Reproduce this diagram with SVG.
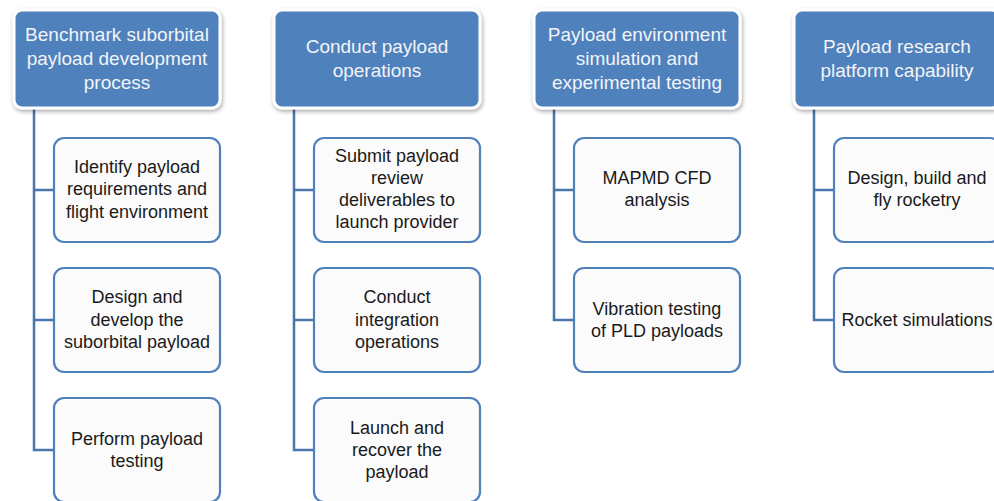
<svg xmlns="http://www.w3.org/2000/svg" width="994" height="501" viewBox="0 0 994 501">
<defs>
<filter id="sh" x="-10%" y="-10%" width="130%" height="130%">
<feGaussianBlur in="SourceAlpha" stdDeviation="2"/>
<feOffset dx="1" dy="2" result="b"/>
<feComponentTransfer><feFuncA type="linear" slope="0.35"/></feComponentTransfer>
<feMerge><feMergeNode/><feMergeNode in="SourceGraphic"/></feMerge>
</filter>
</defs>
<style>
.hdr{fill:#4f81bd;stroke:#ffffff;stroke-width:3;filter:url(#sh)}
.box{fill:#fbfbfb;stroke:#4f81bd;stroke-width:2.2}
.ht{font-family:"Liberation Sans",Arial,sans-serif;font-size:19px;fill:#f2f4f8;text-anchor:middle}
.ct{font-family:"Liberation Sans",Arial,sans-serif;font-size:18px;fill:#1a1a1a;text-anchor:middle}
.con{fill:none;stroke:#4a76ad;stroke-width:2.5}
</style>
<rect width="994" height="501" fill="#ffffff"/>
<g id="connectors">
<path class="con" d="M34 108 V450 H54 M34 190 H54 M34 320 H54"/>
<path class="con" d="M294 108 V450 H314 M294 190 H314 M294 320 H314"/>
<path class="con" d="M554 108 V320 H574 M554 190 H574"/>
<path class="con" d="M814 108 V320 H834 M814 190 H834"/>
</g>
<g id="h1"><rect class="hdr" x="14" y="10" width="206" height="98" rx="8"/>
<text class="ht" x="117" y="41">Benchmark suborbital</text><text class="ht" x="117" y="65">payload development</text><text class="ht" x="117" y="89">process</text></g>
<g id="h2"><rect class="hdr" x="274" y="10" width="206" height="98" rx="8"/>
<text class="ht" x="377" y="53">Conduct payload</text><text class="ht" x="377" y="77">operations</text></g>
<g id="h3"><rect class="hdr" x="534" y="10" width="206" height="98" rx="8"/>
<text class="ht" x="637" y="41">Payload environment</text><text class="ht" x="637" y="65">simulation and</text><text class="ht" x="637" y="89">experimental testing</text></g>
<g id="h4"><rect class="hdr" x="794" y="10" width="206" height="98" rx="8"/>
<text class="ht" x="897" y="53">Payload research</text><text class="ht" x="897" y="77">platform capability</text></g>

<g id="c1a"><rect class="box" x="54" y="138" width="166" height="104" rx="10"/>
<text class="ct" x="137" y="173">Identify payload</text><text class="ct" x="137" y="195">requirements and</text><text class="ct" x="137" y="218">flight environment</text></g>
<g id="c1b"><rect class="box" x="54" y="268" width="166" height="104" rx="10"/>
<text class="ct" x="137" y="303">Design and</text><text class="ct" x="137" y="326">develop the</text><text class="ct" x="137" y="348">suborbital payload</text></g>
<g id="c1c"><rect class="box" x="54" y="398" width="166" height="104" rx="10"/>
<text class="ct" x="137" y="445">Perform payload</text><text class="ct" x="137" y="467">testing</text></g>

<g id="c2a"><rect class="box" x="314" y="138" width="166" height="104" rx="10"/>
<text class="ct" x="397" y="162">Submit payload</text><text class="ct" x="397" y="184">review</text><text class="ct" x="397" y="206">deliverables to</text><text class="ct" x="397" y="228">launch provider</text></g>
<g id="c2b"><rect class="box" x="314" y="268" width="166" height="104" rx="10"/>
<text class="ct" x="397" y="303">Conduct</text><text class="ct" x="397" y="326">integration</text><text class="ct" x="397" y="348">operations</text></g>
<g id="c2c"><rect class="box" x="314" y="398" width="166" height="104" rx="10"/>
<text class="ct" x="397" y="434">Launch and</text><text class="ct" x="397" y="456">recover the</text><text class="ct" x="397" y="478">payload</text></g>

<g id="c3a"><rect class="box" x="574" y="138" width="166" height="104" rx="10"/>
<text class="ct" x="657" y="184">MAPMD CFD</text><text class="ct" x="657" y="206">analysis</text></g>
<g id="c3b"><rect class="box" x="574" y="268" width="166" height="104" rx="10"/>
<text class="ct" x="657" y="315">Vibration testing</text><text class="ct" x="657" y="337">of PLD payloads</text></g>

<g id="c4a"><rect class="box" x="834" y="138" width="166" height="104" rx="10"/>
<text class="ct" x="917" y="184">Design, build and</text><text class="ct" x="917" y="206">fly rocketry</text></g>
<g id="c4b"><rect class="box" x="834" y="268" width="166" height="104" rx="10"/>
<text class="ct" x="917" y="326">Rocket simulations</text></g>
</svg>
